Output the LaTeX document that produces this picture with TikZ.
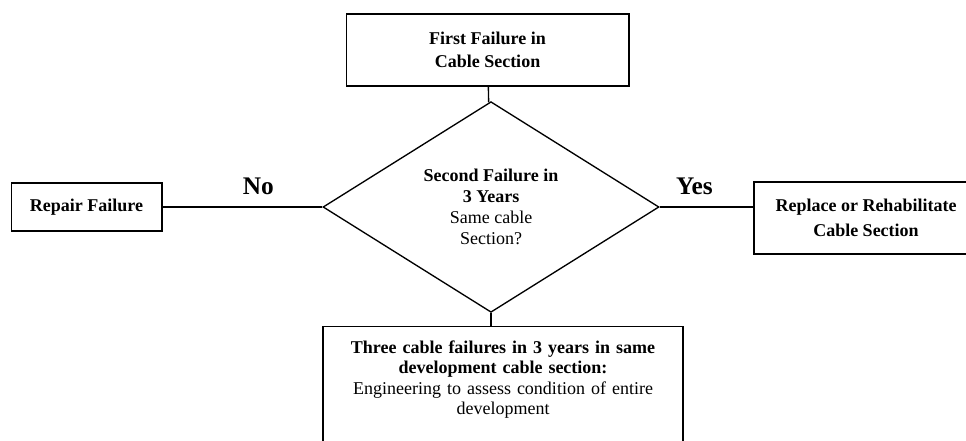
\documentclass[tikz,border=0pt]{standalone}
\usepackage{fontspec}
\setmainfont{Liberation Serif}
\usepackage{tikz}
\usetikzlibrary{shapes.geometric, positioning}

\begin{document}
\begin{tikzpicture}[x=0.75pt, y=-0.75pt,
    box/.style={rectangle, draw, line width=1pt, align=center, font=\fontsize{13.5}{17}\selectfont},
    decision/.style={diamond, draw, line width=1pt, align=center, inner sep=0pt, font=\fontsize{13.5}{15.8}\selectfont},
    link/.style={line width=1pt},
    answer/.style={font=\bfseries\fontsize{19}{22}\selectfont, above=5pt}
]
\useasboundingbox (0,0) rectangle (966,440);

\node[box, minimum width=212pt, minimum height=54pt] (first) at (487.5,50) {\textbf{First Failure in}\\\textbf{Cable Section}};
\node[decision, minimum width=252pt, minimum height=141pt] (second) at (491,207) {\textbf{Second Failure in}\\\textbf{3 Years}\\Same cable\\Section?};
\node[box, minimum width=113pt, minimum height=36pt] (repair) at (86.5,207) {\textbf{Repair Failure}};
\node[box, minimum width=168pt, minimum height=54pt, font=\fontsize{13.5}{18.5}\selectfont] (replace) at (866,218) {\textbf{Replace or Rehabilitate}\\\textbf{Cable Section}};
\node[box, anchor=north, inner xsep=0pt, inner ysep=10pt, text width=270pt, text height=10pt, text depth=120pt, font=\fontsize{13.5}{15.4}\selectfont] (entire) at (503,326) {\textbf{Three cable failures in 3 years in same}\\\textbf{development cable section:}\\Engineering to assess condition of entire\\development};

\draw[link] (first) -- (second);
\draw[link] (second.west) -- node[answer, pos=0.40] (no) {No} (second.west -| repair.east);
\draw[link] (second.east) -- node[answer, pos=0.37] (yes) {Yes} (second.east -| replace.west);
\draw[link] (second.south) -- (second.south |- entire.north);

\end{tikzpicture}
\end{document}
